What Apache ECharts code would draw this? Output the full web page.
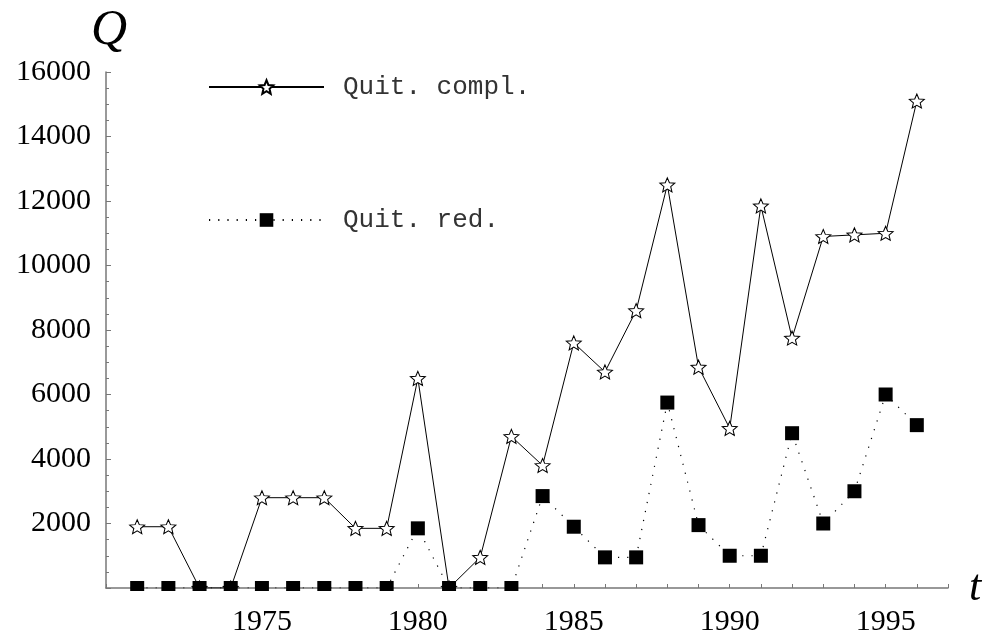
<!DOCTYPE html>
<html>
<head>
<meta charset="utf-8">
<script src="https://cdn.jsdelivr.net/npm/echarts@6/dist/echarts.min.js"></script>
<style>
html,body{margin:0;padding:0;background:#fff;}
#chart{width:985px;height:637px;}
</style>
</head>
<body>
<div id="chart"></div>
<script>
// ---- data ----
const years = [1971,1972,1973,1974,1975,1976,1977,1978,1979,1980,1981,1982,1983,1984,1985,1986,1987,1988,1989,1990,1991,1992,1993,1994,1995,1996];
const quitCompl = [1900,1900,0,0,2800,2800,2800,1850,1850,6500,0,950,4700,3800,7600,6700,8600,12500,6850,4950,11850,7750,10900,10950,11000,15100];
const quitRed = [0,0,0,0,0,0,0,0,0,1850,0,0,0,2850,1900,950,950,5750,1950,1000,1000,4800,2000,3000,6000,5050];
const seriesNames = ['Quit. compl.', 'Quit. red.'];
const xLabelYears = [1975,1980,1985,1990,1995];

const starPath = 'path://M100,0 L126.45,63.6 L195.1,69.1 L142.8,113.9 L158.8,180.9 L100,145 L41.2,180.9 L57.2,113.9 L4.9,69.1 L73.55,63.6 Z';
const axisGray = '#777';
const serif = '"Liberation Serif", "DejaVu Serif", serif';
const mono = '"Liberation Mono", "DejaVu Sans Mono", monospace';

const chart = echarts.init(document.getElementById('chart'), null, {renderer:'canvas'});

const legendText = {fontFamily: mono, fontSize: 26, color: '#333', lineHeight: 26, padding: [0,0,0,14]};

chart.setOption({
  animation: false,
  backgroundColor: '#fff',
  grid: {left: 106, right: 37, top: 72, bottom: 47, containLabel: false},
  legend: [
    {data: [seriesNames[0]], left: 208, top: 74, padding: 0, itemWidth: 115, itemHeight: 17, selectedMode: false, textStyle: legendText},
    {data: [seriesNames[1]], left: 208, top: 207, padding: 0, itemWidth: 115, itemHeight: 17, selectedMode: false, textStyle: legendText}
  ],
  xAxis: {
    type: 'value', min: 1970, max: 1997, interval: 1,
    name: 't', nameLocation: 'end', nameGap: 21,
    nameTextStyle: {fontFamily: serif, fontStyle: 'italic', fontSize: 44, color: '#000', verticalAlign: 'middle', padding: [0,0,2,0]},
    axisLine: {show: true, onZero: false, lineStyle: {color: axisGray, width: 1.5}},
    axisTick: {show: true, inside: true, length: 4, lineStyle: {color: axisGray, width: 1}},
    axisLabel: {
      margin: 19, fontFamily: serif, fontSize: 30, color: '#000',
      formatter: v => xLabelYears.indexOf(v) >= 0 ? String(v) : ''
    },
    splitLine: {show: false}
  },
  yAxis: {
    type: 'value', min: 0, max: 16000, interval: 2000,
    name: 'Q', nameLocation: 'end', nameGap: 16,
    nameTextStyle: {fontFamily: serif, fontStyle: 'italic', fontSize: 50, color: '#000', align: 'center', padding: [0,0,0,6]},
    axisLine: {show: true, onZero: false, lineStyle: {color: axisGray, width: 1.5}},
    axisTick: {show: true, inside: true, length: 5, lineStyle: {color: axisGray, width: 1}},
    minorTick: {show: true, splitNumber: 4, length: 3, lineStyle: {color: axisGray, width: 1}},
    axisLabel: {
      margin: 15, fontFamily: serif, fontSize: 30, color: '#000',
      formatter: v => v === 0 ? '' : String(v)
    },
    splitLine: {show: false},
    minorSplitLine: {show: false}
  },
  series: [
    {
      name: seriesNames[0], type: 'line',
      data: years.map((y, i) => [y, quitCompl[i]]),
      symbol: starPath, symbolSize: [15, 14], symbolKeepAspect: false,
      showAllSymbol: true,
      lineStyle: {color: '#000', width: 1, type: 'solid'},
      itemStyle: {color: '#fff', borderColor: '#000', borderWidth: 1},
      z: 3
    },
    {
      name: seriesNames[1], type: 'line',
      data: years.map((y, i) => [y, quitRed[i]]),
      symbol: 'rect', symbolSize: 14,
      showAllSymbol: true,
      lineStyle: {color: '#000', width: 1.2, type: [1.2, 8]},
      itemStyle: {color: '#000', borderWidth: 0},
      z: 4
    }
  ],
  graphic: [
    // white band below the x axis: the plot region clips the lower halves of marks at zero
    {type: 'rect', z: 100, silent: true, shape: {x: 107, y: 591, width: 842, height: 8}, style: {fill: '#fff'}}
  ]
});
</script>
</body>
</html>
